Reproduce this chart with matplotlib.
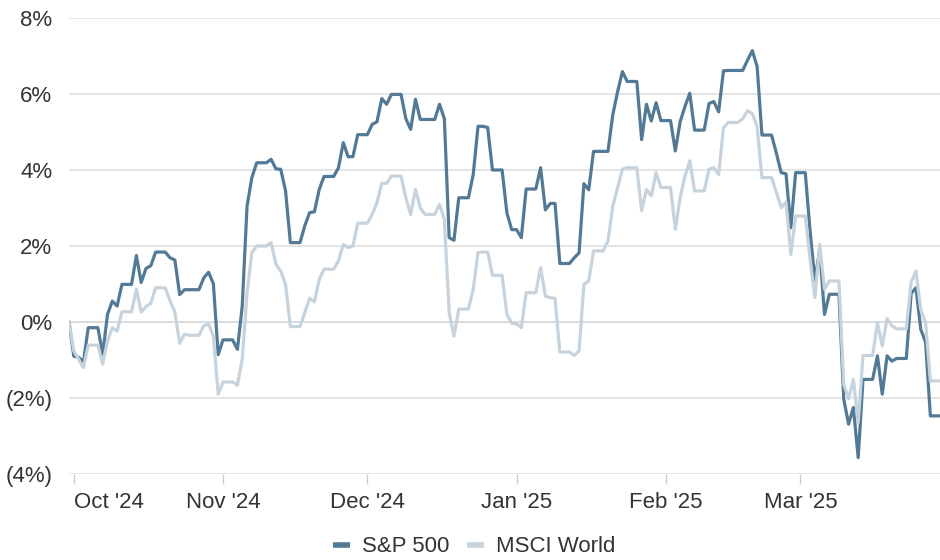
import matplotlib
matplotlib.use("Agg")
import matplotlib.pyplot as plt
import pandas as pd

# Cumulative change since 30 Sep 2024, one value per calendar day (Mon..Sun rows)
start_date = "2024-09-30"
end_date = "2025-03-30"

sp500 = [
    0.00, -0.90, -0.93, -1.05, -0.15, -0.15, -0.15,
    -0.85, 0.20, 0.55, 0.42, 0.99, 0.99, 0.99,
    1.75, 1.04, 1.41, 1.48, 1.84, 1.84, 1.84,
    1.69, 1.63, 0.72, 0.85, 0.85, 0.85, 0.85,
    1.16, 1.31, 1.01, -0.86, -0.47, -0.47, -0.47,
    -0.72, 0.42, 3.05, 3.80, 4.19, 4.19, 4.19,
    4.28, 4.03, 4.02, 3.45, 2.09, 2.09, 2.09,
    2.53, 2.88, 2.90, 3.49, 3.83, 3.83, 3.83,
    4.06, 4.72, 4.35, 4.35, 4.93, 4.93, 4.93,
    5.20, 5.27, 5.88, 5.73, 5.99, 5.99, 5.99,
    5.35, 5.07, 5.86, 5.33, 5.33, 5.33, 5.33,
    5.73, 5.35, 2.22, 2.15, 3.27, 3.27, 3.27,
    3.88, 5.15, 5.15, 5.12, 4.00, 4.00, 4.00,
    2.87, 2.43, 2.43, 2.22, 3.50, 3.50, 3.50,
    4.06, 2.95, 3.12, 3.12, 1.54, 1.54, 1.54,
    1.69, 1.82, 3.64, 3.48, 4.49, 4.49, 4.49,
    4.49, 5.45, 6.06, 6.59, 6.33, 6.33, 6.33,
    4.80, 5.73, 5.29, 5.77, 5.30, 5.30, 5.30,
    4.50, 5.27, 5.67, 6.02, 5.05, 5.05, 5.05,
    5.75, 5.80, 5.53, 6.61, 6.62, 6.62, 6.62,
    6.62, 6.89, 7.14, 6.72, 4.92, 4.92, 4.92,
    4.44, 3.93, 3.90, 2.48, 3.93, 3.93, 3.93,
    2.40, 1.10, 1.90, 0.20, 0.73, 0.73, 0.73,
    -2.03, -2.69, -2.25, -3.57, -1.51, -1.51, -1.51,
    -0.89, -1.90, -0.89, -1.03, -0.96, -0.96, -0.96,
    0.75, 0.90, -0.19, -0.53, -2.47, -2.47, -2.47,
]

msci_world = [
    0.00, -0.76, -0.98, -1.20, -0.61, -0.61, -0.61,
    -1.11, -0.50, -0.15, -0.24, 0.27, 0.27, 0.27,
    0.86, 0.26, 0.41, 0.49, 0.90, 0.90, 0.90,
    0.56, 0.26, -0.56, -0.32, -0.35, -0.35, -0.35,
    -0.10, -0.05, -0.37, -1.90, -1.58, -1.58, -1.58,
    -1.66, -0.98, 0.77, 1.83, 2.00, 2.00, 2.00,
    2.09, 1.52, 1.34, 0.99, -0.12, -0.12, -0.12,
    0.25, 0.62, 0.53, 1.12, 1.39, 1.39, 1.39,
    1.61, 2.04, 1.96, 2.00, 2.60, 2.60, 2.60,
    2.83, 3.14, 3.65, 3.65, 3.84, 3.84, 3.84,
    3.27, 2.83, 3.49, 3.00, 2.83, 2.83, 2.83,
    3.10, 2.70, 0.25, -0.37, 0.34, 0.34, 0.34,
    0.86, 1.83, 1.84, 1.84, 1.23, 1.23, 1.23,
    0.20, -0.03, -0.05, -0.15, 0.77, 0.77, 0.77,
    1.43, 0.68, 0.64, 0.62, -0.79, -0.79, -0.79,
    -0.88, -0.76, 0.99, 1.08, 1.87, 1.87, 1.87,
    2.13, 3.05, 3.54, 4.02, 4.06, 4.06, 4.06,
    2.93, 3.49, 3.32, 3.93, 3.54, 3.54, 3.54,
    2.44, 3.27, 3.84, 4.24, 3.45, 3.45, 3.45,
    4.02, 4.06, 3.88, 5.11, 5.25, 5.25, 5.25,
    5.35, 5.56, 5.48, 5.14, 3.80, 3.80, 3.80,
    3.41, 3.01, 3.16, 1.78, 2.79, 2.79, 2.79,
    1.65, 0.64, 2.04, 0.86, 1.08, 1.08, 1.08,
    -1.64, -2.02, -1.51, -2.65, -0.88, -0.88, -0.88,
    -0.02, -0.63, 0.09, -0.10, -0.18, -0.18, -0.18,
    1.04, 1.34, 0.33, -0.02, -1.55, -1.55, -1.55,
]

month_ticks = ["2024-10-01", "2024-11-01", "2024-12-01",
               "2025-01-01", "2025-02-01", "2025-03-01"]
month_labels = ["Oct '24", "Nov '24", "Dec '24", "Jan '25", "Feb '25", "Mar '25"]
y_ticks = [-4, -2, 0, 2, 4, 6, 8]
y_labels = ["(4%)", "(2%)", "0%", "2%", "4%", "6%", "8%"]

series_names = ["S&P 500", "MSCI World"]
series_colors = ["#527a96", "#c6d3dd"]

plt.rcParams["font.family"] = ["Liberation Sans", "DejaVu Sans"]
text_color = "#333333"

dates = pd.date_range(start_date, end_date, freq="D")
df = pd.DataFrame({"S&P 500": sp500, "MSCI World": msci_world}, index=dates)

W, H = 940, 560
fig = plt.figure(figsize=(W / 100, H / 100), dpi=100)
ax = fig.add_axes([69 / W, (H - 474) / H, (W - 69) / W, (474 - 18) / H])

for name, color in zip(series_names, series_colors):
    ax.plot(df.index, df[name], color=color, lw=2.3, label=name,
            solid_joinstyle="round", solid_capstyle="round", zorder=3)

ax.set_xlim(pd.Timestamp(start_date), pd.Timestamp(end_date))
ax.set_ylim(-4, 8)

ax.set_yticks(y_ticks)
ax.set_yticklabels(y_labels)
ax.grid(axis="y", color="#e3e3e3", lw=1.3, zorder=0)
ax.axhline(0, color="#888888", lw=1.2, zorder=1)
for s in ax.spines.values():
    s.set_visible(False)

ax.set_xticks(pd.to_datetime(month_ticks))
ax.set_xticklabels(month_labels)
ax.tick_params(axis="x", length=7, width=1, color="#cccccc", pad=6,
               labelsize=16, labelcolor=text_color)
ax.tick_params(axis="y", length=0, pad=12, labelsize=16, labelcolor=text_color)
for lab in ax.get_yticklabels():
    lab.set_clip_on(False)
first = ax.get_xticklabels()[0]
first.set_horizontalalignment("left")

leg = fig.legend(loc="center", bbox_to_anchor=(474 / W, (H - 547) / H), ncol=2,
                 frameon=False, fontsize=16, handlelength=0.75,
                 handletextpad=0.55, columnspacing=0.8, labelcolor=text_color)
for line in leg.get_lines():
    line.set_linewidth(4)
    line.set_solid_capstyle("butt")

fig.savefig("out.png", dpi=100)
